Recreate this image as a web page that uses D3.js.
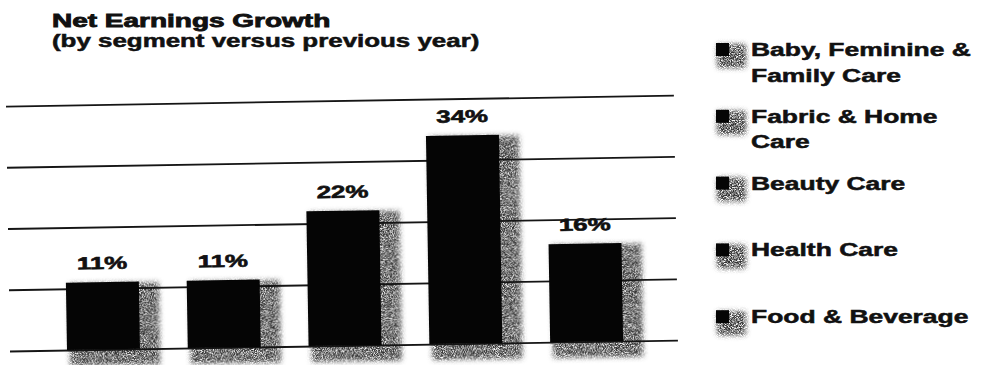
<!DOCTYPE html>
<html>
<head>
<meta charset="utf-8">
<script src="https://cdn.jsdelivr.net/npm/d3@7"></script>
<style>
  html, body { margin: 0; padding: 0; background: #fff; }
  svg { display: block; }
  text { font-family: "Liberation Sans", Arial, Helvetica, sans-serif; font-weight: bold; fill: #111; stroke: #111; }
</style>
</head>
<body>
<div id="chart"></div>
<script>
// Segments, growth values and gridline ticks
const categories = [
  "Baby, Feminine & Family Care",
  "Fabric & Home Care",
  "Beauty Care",
  "Health Care",
  "Food & Beverage"
];
const growth = [11, 11, 22, 34, 16];
const gridTicks = [0, 10, 20, 30, 40];
const legendLines = [
  ["Baby, Feminine &", "Family Care"],
  ["Fabric & Home", "Care"],
  ["Beauty Care"],
  ["Health Care"],
  ["Food & Beverage"]
];
const titleLines = ["Net Earnings Growth", "(by segment versus previous year)"];

const W = 981, H = 365;
const svg = d3.select("#chart").append("svg")
  .attr("width", W).attr("height", H)
  .attr("viewBox", `0 0 ${W} ${H}`);

svg.append("rect").attr("width", W).attr("height", H).attr("fill", "#fff");

// Grainy drop-shadow texture
const defs = svg.append("defs");
const f = defs.append("filter").attr("id", "grain")
  .attr("x", "-0.3").attr("y", "-0.3").attr("width", "1.6").attr("height", "1.6");
f.append("feGaussianBlur").attr("in", "SourceGraphic").attr("stdDeviation", 2.6).attr("result", "blur");
f.append("feTurbulence").attr("type", "fractalNoise").attr("baseFrequency", 1.1)
  .attr("numOctaves", 2).attr("seed", 7).attr("result", "noise");
f.append("feColorMatrix").attr("in", "noise").attr("type", "matrix")
  .attr("values", "0 0 0 0 0  0 0 0 0 0  0 0 0 0 0  2.8 0 0 0 -0.75").attr("result", "speck");
f.append("feComposite").attr("in", "blur").attr("in2", "speck").attr("operator", "in");

// Title
const title = svg.append("g");
[[titleLines[0], 52, 27, 17.5, 1.6, 0.8], [titleLines[1], 52, 47, 17.5, 1.48, 0.5]].forEach(([t, tx, ty, fs, sx, sw]) => {
  title.append("g").attr("transform", `translate(${tx},${ty}) scale(${sx},1)`)
    .append("text").attr("font-size", fs).attr("stroke-width", sw).text(t);
});

// Plot area (slightly tilted, as printed)
const plot = svg.append("g").attr("transform", "rotate(-0.94, 10, 351)");

const y = d3.scaleLinear().domain([0, 40]).range([351, 106]);
const x = d3.scaleBand().domain(categories).range([67, 623.2]).paddingInner(0.396).paddingOuter(0);
const data = categories.map((c, i) => ({ c, v: growth[i] }));

// Shadows
plot.append("g").selectAll("rect").data(data).join("rect")
  .attr("x", d => x(d.c) + 3)
  .attr("y", d => y(d.v) + 1)
  .attr("width", x.bandwidth() + 17)
  .attr("height", d => y(0) - y(d.v) + 15)
  .attr("fill", "#333")
  .attr("filter", "url(#grain)");

// Gridlines
const grid = plot.append("g").attr("transform", "translate(10,0)")
  .call(d3.axisLeft(y).tickValues(gridTicks).tickSize(-668).tickFormat(""));
grid.select(".domain").remove();
grid.selectAll(".tick line").attr("stroke", "#151515").attr("stroke-width", 1.8);

// Bars
plot.append("g").selectAll("rect").data(data).join("rect")
  .attr("x", d => x(d.c))
  .attr("y", d => y(d.v))
  .attr("width", x.bandwidth())
  .attr("height", d => y(0) - y(d.v))
  .attr("fill", "#050505");

// Value labels
plot.append("g").selectAll("g").data(data).join("g")
  .attr("transform", d => `translate(${x(d.c) + x.bandwidth() / 2},${y(d.v) - 13}) scale(1.48,1)`)
  .append("text")
  .attr("text-anchor", "middle")
  .attr("font-size", 17.5)
  .attr("stroke-width", 0.6)
  .text(d => d.v + "%");

// Legend
const legend = svg.append("g");
const lg = legend.selectAll("g").data(legendLines).join("g")
  .attr("transform", (d, i) => `translate(716,${43 + i * 66.8})`);
lg.append("rect").attr("x", 1).attr("y", 1).attr("width", 29).attr("height", 24)
  .attr("rx", 3)
  .attr("fill", "#333").attr("filter", "url(#grain)");
lg.append("rect").attr("width", 13).attr("height", 13).attr("fill", "#050505");
lg.each(function(lines) {
  const g = d3.select(this);
  lines.forEach((t, j) => {
    g.append("g").attr("transform", `translate(35,${13 + j * 25.5}) scale(1.47,1)`)
      .append("text").attr("font-size", 18).attr("stroke-width", 0.5).text(t);
  });
});
</script>
</body>
</html>
